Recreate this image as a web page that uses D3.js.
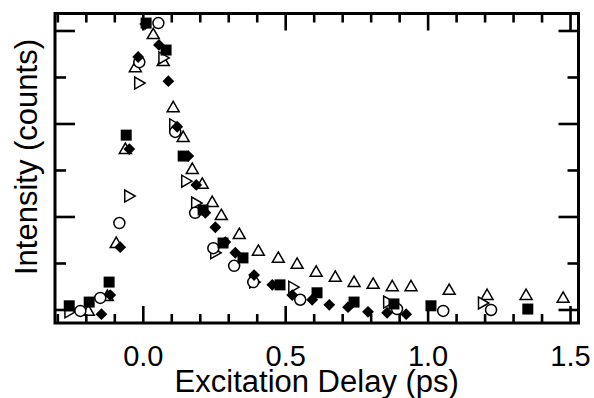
<!DOCTYPE html>
<html>
<head>
<meta charset="utf-8">
<script src="https://cdn.jsdelivr.net/npm/d3@7"></script>
<style>
  html, body { margin: 0; padding: 0; background: #fff; }
  svg { display: block; }
  text { font-family: "Liberation Sans", Arial, Helvetica, sans-serif; fill: #000; }
</style>
</head>
<body>
<svg id="chart" width="594" height="398"></svg>
<script>
// Excitation delay (ps) and intensity (arb. counts) for each measured trace
const squareDelay = [-0.26, -0.19, -0.12, -0.06, 0.01, 0.08, 0.14, 0.21, 0.28, 0.35, 0.48, 0.61, 0.74, 0.88, 1.01, 1.35];
const squareInt   = [0.09, 0.17, 0.60, 3.76, 6.17, 5.59, 3.31, 2.15, 1.44, 1.12, 0.54, 0.37, 0.17, 0.13, 0.09, 0.02];

const diamondDelay = [-0.147, -0.116, -0.081, -0.049, -0.018, 0.007, 0.055, 0.088, 0.119, 0.158, 0.186, 0.218, 0.253, 0.288, 0.323, 0.389, 0.453, 0.523, 0.593, 0.653, 0.719, 0.789, 0.856, 0.923];
const diamondInt   = [-0.09, 0.32, 1.35, 3.46, 5.44, 6.15, 5.70, 4.92, 3.94, 3.31, 2.69, 2.09, 1.78, 1.46, 1.23, 0.75, 0.54, 0.32, 0.22, 0.11, 0.06, -0.04, -0.06, -0.09];

const circleDelay = [-0.221, -0.151, -0.084, -0.014, 0.053, 0.112, 0.182, 0.246, 0.319, 0.386, 0.551, 0.891, 1.053, 1.221];
const circleInt   = [-0.02, 0.26, 1.87, 5.33, 6.17, 3.83, 2.09, 1.33, 0.95, 0.60, 0.22, 0.02, -0.02, 0.00];

const triUpDelay = [-0.193, -0.126, -0.095, -0.063, -0.028, 0.035, 0.070, 0.105, 0.140, 0.172, 0.207, 0.242, 0.274, 0.337, 0.404, 0.474, 0.540, 0.607, 0.674, 0.740, 0.807, 0.874, 0.940, 1.074, 1.207, 1.344, 1.474];
const triUpInt   = [-0.04, 0.28, 1.42, 3.44, 5.20, 5.91, 5.33, 4.34, 3.70, 3.01, 2.69, 2.30, 2.02, 1.61, 1.25, 1.10, 0.97, 0.80, 0.69, 0.58, 0.54, 0.49, 0.49, 0.41, 0.30, 0.30, 0.24];

const triRightDelay = [-0.263, -0.053, -0.018, 0.067, 0.105, 0.147, 0.182, 0.249, 0.386, 0.523, 0.856, 1.189];
const triRightInt   = [-0.04, 2.45, 4.88, 5.42, 3.98, 2.77, 2.30, 1.23, 0.60, 0.49, 0.17, 0.15];

// Axis tick values
const xMajorTicks = [0.0, 0.5, 1.0, 1.5];
const xMinorTicks = d3.range(-3, 16).map(i => i / 10);
const yMajorTicks = [0, 2, 4, 6];
const yMinorTicks = [0, 1, 2, 3, 4, 5, 6];

const xTitle = "Excitation Delay (ps)";
const yTitle = "Intensity (counts)";

const svg = d3.select("#chart");
const box = { left: 55, right: 578.5, top: 13.5, bottom: 323 };

const x = d3.scaleLinear().domain([-0.31, 1.528]).range([box.left, box.right]);
const y = d3.scaleLinear().domain([-0.28, 6.376]).range([box.bottom, box.top]);

// Series definitions: marker shape and fill
const series = [
  { dx: triUpDelay,    dy: triUpInt,    shape: d3.symbolTriangle, size: 62, rotate: 0,  filled: false },
  { dx: triRightDelay, dy: triRightInt, shape: d3.symbolTriangle, size: 62, rotate: 90, filled: false },
  { dx: circleDelay,   dy: circleInt,   shape: d3.symbolCircle,   size: 95, rotate: 0,  filled: false },
  { dx: diamondDelay,  dy: diamondInt,  shape: d3.symbolSquare,   size: 70, rotate: 45, filled: true },
  { dx: squareDelay,   dy: squareInt,   shape: d3.symbolSquare,   size: 121, rotate: 0, filled: true }
];

const plot = svg.append("g");
series.forEach(s => {
  const pts = s.dx.map((d, i) => [d, s.dy[i]]);
  const sym = d3.symbol().type(s.shape).size(s.size);
  plot.append("g").selectAll("path")
    .data(pts)
    .join("path")
    .attr("d", sym)
    .attr("transform", d => `translate(${x(d[0])},${y(d[1])}) rotate(${s.rotate})`)
    .attr("fill", s.filled ? "#000" : "#fff")
    .attr("stroke", "#000")
    .attr("stroke-width", s.filled ? 0 : 1.5);
});

// Ticks on all four sides
const tickG = svg.append("g").attr("stroke", "#000").attr("stroke-width", 2.6);
const isMajorX = v => xMajorTicks.some(m => Math.abs(m - v) < 1e-9);
xMinorTicks.forEach(v => {
  const len = isMajorX(v) ? 17 : 9;
  tickG.append("line").attr("x1", x(v)).attr("x2", x(v)).attr("y1", box.bottom).attr("y2", box.bottom - len);
  tickG.append("line").attr("x1", x(v)).attr("x2", x(v)).attr("y1", box.top).attr("y2", box.top + len);
});
yMinorTicks.forEach(v => {
  const len = yMajorTicks.includes(v) ? 20 : 11;
  tickG.append("line").attr("y1", y(v)).attr("y2", y(v)).attr("x1", box.left).attr("x2", box.left + len);
  tickG.append("line").attr("y1", y(v)).attr("y2", y(v)).attr("x1", box.right).attr("x2", box.right - len);
});

// Frame
svg.append("rect")
  .attr("x", box.left).attr("y", box.top)
  .attr("width", box.right - box.left).attr("height", box.bottom - box.top)
  .attr("fill", "none").attr("stroke", "#000").attr("stroke-width", 3);

// Bottom tick labels
svg.append("g").selectAll("text")
  .data(xMajorTicks)
  .join("text")
  .attr("x", d => x(d))
  .attr("y", 366)
  .attr("text-anchor", "middle")
  .attr("font-size", 29)
  .text(d => d.toFixed(1));

// Axis titles
svg.append("text")
  .attr("x", (box.left + box.right) / 2).attr("y", 391.5)
  .attr("text-anchor", "middle")
  .attr("font-size", 31)
  .text(xTitle);

svg.append("text")
  .attr("transform", "translate(37,157) rotate(-90)")
  .attr("text-anchor", "middle")
  .attr("font-size", 31)
  .text(yTitle);
</script>
</body>
</html>
